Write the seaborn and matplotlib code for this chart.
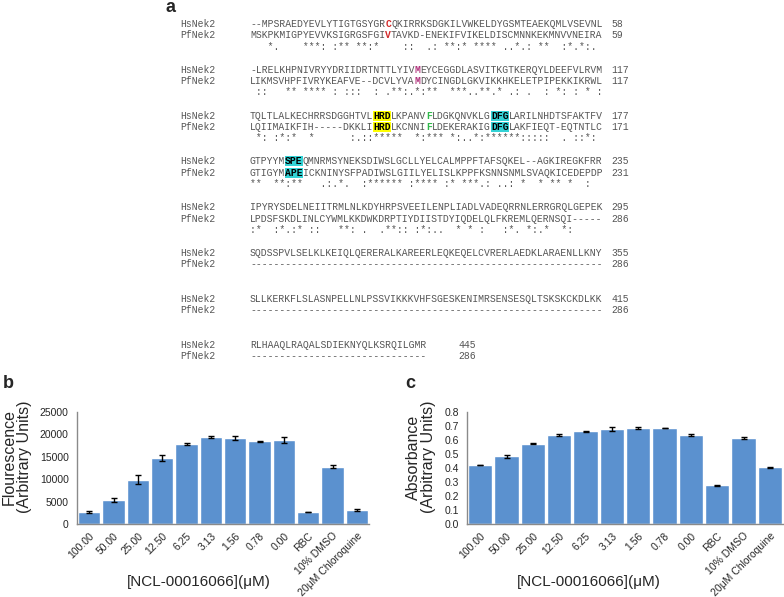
import numpy as np
import pandas as pd
import matplotlib
matplotlib.use('Agg')
import matplotlib.pyplot as plt
import seaborn as sns

sns.set_style('white')
plt.rcParams['font.family'] = ['Liberation Sans', 'DejaVu Sans']

W, H, DPI = 784, 597, 100

# ---- panel a: HsNek2 / PfNek2 alignment, 60 columns per block
hs_blocks = [
    "--MPSRAEDYEVLYTIGTGSYGRCQKIRRKSDGKILVWKELDYGSMTEAEKQMLVSEVNL",
    "-LRELKHPNIVRYYDRIIDRTNTTLYIVMEYCEGGDLASVITKGTKERQYLDEEFVLRVM",
    "TQLTLALKECHRRSDGGHTVLHRDLKPANVFLDGKQNVKLGDFGLARILNHDTSFAKTFV",
    "GTPYYMSPEQMNRMSYNEKSDIWSLGCLLYELCALMPPFTAFSQKEL--AGKIREGKFRR",
    "IPYRYSDELNEIITRMLNLKDYHRPSVEEILENPLIADLVADEQRRNLERRGRQLGEPEK",
    "SQDSSPVLSELKLKEIQLQERERALKAREERLEQKEQELCVRERLAEDKLARAENLLKNY",
    "SLLKERKFLSLASNPELLNLPSSVIKKKVHFSGESKENIMRSENSESQLTSKSKCKDLKK",
    "RLHAAQLRAQALSDIEKNYQLKSRQILGMR",
]
pf_blocks = [
    "MSKPKMIGPYEVVKSIGRGSFGIVTAVKD-ENEKIFVIKELDISCMNNKEKMNVVNEIRA",
    "LIKMSVHPFIVRYKEAFVE--DCVLYVAMDYCINGDLGKVIKKHKELETPIPEKKIKRWL",
    "LQIIMAIKFIH-----DKKLIHRDLKCNNIFLDEKERAKIGDFGLAKFIEQT-EQTNTLC",
    "GTIGYMAPEICKNINYSFPADIWSLGIILYELISLKPPFKSNNSNMLSVAQKICEDEPDP",
    "LPDSFSKDLINLCYWMLKKDWKDRPTIYDIISTDYIQDELQLFKREMLQERNSQI-----",
    "-" * 60,
    "-" * 60,
    "-" * 30,
]
cons_blocks = [
    "   *.    ***: :** **:*    ::  .: **:* **** ..*.: **  :*.*:. ",
    " ::   ** **** : :::  : .**:.*:**  ***..**.* .: .  : *: : * :",
    " *: :*:*  *      :.::*****  *:*** *:..*:******:::::  . ::*: ",
    "**  **:**   .:.*.  :****** :**** :* ***.: ..: *  * ** *  :  ",
    ":*  :*.:* ::   **: .  .**:: :*:..  * * :   :*. *:.*  *:     ",
    "",
    "",
    "",
]
hs_ends = [58, 117, 177, 235, 295, 355, 415, 445]
pf_ends = [59, 117, 171, 231, 286, 286, 286, 286]

# highlighted columns: (block, column, length, style)
marks = [(0, 23, 1, 'red'), (1, 28, 1, 'mag'), (2, 21, 3, 'yellow'),
         (2, 30, 1, 'green'), (2, 41, 3, 'cyan'), (3, 6, 3, 'cyan')]

# ---- panels b and c
conc = ['100.00', '50.00', '25.00', '12.50', '6.25', '3.13', '1.56', '0.78',
        '0.00', 'RBC', '10% DMSO', '20μM Chloroquine']
fluor = [2700, 5300, 9900, 14750, 17800, 19500, 19200, 18500, 18800, 2650, 12800, 3200]
fluor_err = [150, 500, 1000, 600, 250, 250, 350, 100, 650, 80, 400, 200]
absorb = [0.422, 0.483, 0.575, 0.638, 0.663, 0.677, 0.685, 0.685, 0.638, 0.276, 0.615, 0.404]
absorb_err = [0.003, 0.010, 0.003, 0.008, 0.004, 0.014, 0.007, 0.002, 0.008, 0.003, 0.008, 0.004]

fig = plt.figure(figsize=(W / DPI, H / DPI), dpi=DPI)


def fx(x):
    return x / W


def fy(y):
    return 1 - y / H


mono = 'Liberation Mono'
fs = 7.05
cw = fs * 0.6 * DPI / 72  # char width in px
grey = '#555555'
x_name, x_seq, x_num = 180, 250, 611
styles = {
    'plain': dict(color=grey),
    'red': dict(color='#d32a2a', weight='bold'),
    'mag': dict(color='#b0307a', weight='bold'),
    'green': dict(color='#2fb84a', weight='bold'),
    'yellow': dict(color='black', weight='bold',
                   bbox=dict(facecolor='#ffff00', edgecolor='none', pad=0.1)),
    'cyan': dict(color='black', weight='bold',
                 bbox=dict(facecolor='#33d3d6', edgecolor='none', pad=0.1)),
}


def draw_row(seq, k, y):
    # split the row into plain and highlighted pieces
    cuts = sorted((c, n, st) for b, c, n, st in marks if b == k)
    pieces, pos = [], 0
    for c, n, st in cuts:
        if c > pos:
            pieces.append((pos, seq[pos:c], 'plain'))
        pieces.append((c, seq[c:c + n], st))
        pos = c + n
    if pos < len(seq):
        pieces.append((pos, seq[pos:], 'plain'))
    for start, txt, st in pieces:
        fig.text(fx(x_seq + start * cw), fy(y), txt, family=mono, fontsize=fs,
                 va='center', **styles[st])


for k in range(len(hs_blocks)):
    y0 = 24 + 45.8 * k
    rows = [(hs_blocks[k], 'HsNek2', hs_ends[k], y0), (pf_blocks[k], 'PfNek2', pf_ends[k], y0 + 11.3)]
    for seq, name, end, y in rows:
        fig.text(fx(x_name), fy(y), name, family=mono, fontsize=fs, color=grey, va='center')
        draw_row(seq, k, y)
        xn = x_num if len(seq) == 60 else x_seq + len(seq) * cw + 32
        fig.text(fx(xn), fy(y), str(end), family=mono, fontsize=fs, color=grey, va='center')
    if cons_blocks[k]:
        fig.text(fx(x_seq), fy(y0 + 22.5), cons_blocks[k], family=mono, fontsize=fs,
                 color=grey, va='center')

fig.text(fx(166), fy(7), 'a', fontsize=13, weight='bold', va='center')
fig.text(fx(3), fy(384), 'b', fontsize=13, weight='bold', va='center')
fig.text(fx(405), fy(384), 'c', fontsize=13, weight='bold', va='center')

bar_color = '#5b91cf'
axis_grey = '#8a8a8a'


def bar_panel(rect, vals, errs, ylim, yticks, ylab, lab_x, xlab_x):
    ax = fig.add_axes(rect)
    sns.barplot(x=conc, y=vals, color=bar_color, saturation=1, width=0.93,
                errorbar=None, ax=ax)
    ax.errorbar(np.arange(len(conc)), vals, yerr=errs, fmt='none', ecolor='black',
                elinewidth=1, capsize=2.5, capthick=1)
    ax.set_xlim(-0.5, len(conc) - 0.5)
    ax.set_ylim(*ylim)
    ax.set_yticks(yticks)
    sns.despine(ax=ax)
    for s in ['left', 'bottom']:
        ax.spines[s].set_color(axis_grey)
        ax.spines[s].set_linewidth(1)
    ax.set_xticks(np.arange(len(conc)))
    ax.set_xticks(np.arange(len(conc) + 1) - 0.5, minor=True)
    ax.set_xticklabels(conc, rotation=45, ha='right', rotation_mode='anchor', fontsize=7.5)
    ax.tick_params(axis='x', which='major', length=0, pad=5)
    ax.tick_params(axis='x', which='minor', length=4, color=axis_grey, direction='out')
    ax.tick_params(axis='y', length=4, color=axis_grey, direction='out', labelsize=7.5, pad=2)
    ax.set_xlabel('')
    ax.set_ylabel('')
    fig.text(fx(lab_x), fy(457), ylab, rotation=90, fontsize=11.5, ha='center',
             va='center', linespacing=1.05, multialignment='center')
    fig.text(fx(xlab_x), fy(582), '[NCL-00016066](μM)', fontsize=11, ha='center', va='center')
    return ax


bar_panel([fx(77), 1 - 524 / H, 292 / W, 112 / H], fluor, fluor_err, (0, 25000),
          np.arange(0, 25001, 5000), 'Flourescence\n(Arbitrary Units)', 17, 199)
bar_panel([fx(467), 1 - 524 / H, 316 / W, 112 / H], absorb, absorb_err, (0, 0.8),
          np.round(np.arange(0, 0.81, 0.1), 1), 'Absorbance\n(Arbitrary Units)', 421, 589)

fig.savefig('out.png', dpi=DPI)
